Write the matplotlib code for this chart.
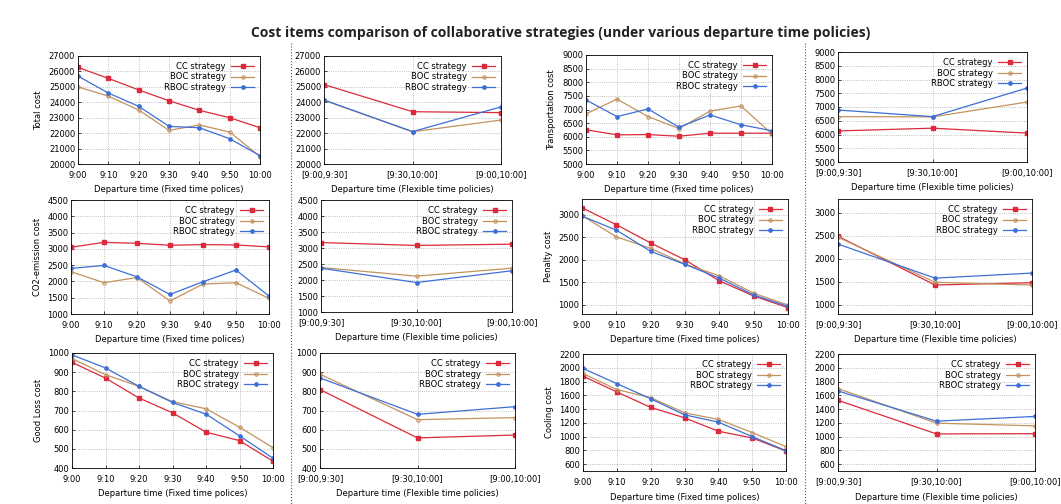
import matplotlib
matplotlib.use('Agg')
import matplotlib.pyplot as plt
from matplotlib.lines import Line2D

# departure times
fixed_ticks = ['9:00', '9:10', '9:20', '9:30', '9:40', '9:50', '10:00']
flex_ticks = ['[9:00,9:30]', '[9:30,10:00]', '[9:00,10:00]']

# total cost
total_fix_cc = [26260, 25550, 24800, 24100, 23480, 23000, 22350]
total_fix_boc = [25000, 24400, 23500, 22180, 22530, 22070, 20480]
total_fix_rboc = [25700, 24600, 23740, 22440, 22350, 21640, 20540]
total_flex_cc = [25150, 23390, 23330]
total_flex_boc = [24130, 22090, 22850]
total_flex_rboc = [24150, 22100, 23700]

# transportation cost
trans_fix_cc = [6256, 6070, 6080, 6020, 6130, 6130, 6130]
trans_fix_boc = [6840, 7380, 6740, 6300, 6940, 7130, 6100]
trans_fix_rboc = [7350, 6740, 7020, 6350, 6800, 6440, 6220]
trans_flex_cc = [6130, 6230, 6050]
trans_flex_boc = [6650, 6640, 7180]
trans_flex_rboc = [6890, 6650, 7690]

# CO2-emission cost
co2_fix_cc = [3050, 3200, 3170, 3110, 3130, 3120, 3060]
co2_fix_boc = [2300, 1960, 2120, 1400, 1920, 1960, 1480]
co2_fix_rboc = [2400, 2490, 2140, 1600, 1990, 2350, 1550]
co2_flex_cc = [3170, 3080, 3120]
co2_flex_boc = [2390, 2120, 2370]
co2_flex_rboc = [2370, 1920, 2290]

# penalty cost
pen_fix_cc = [3156, 2780, 2375, 2000, 1535, 1200, 940]
pen_fix_boc = [2985, 2510, 2256, 1907, 1647, 1260, 1000]
pen_fix_rboc = [2970, 2660, 2190, 1900, 1595, 1220, 970]
pen_flex_cc = [2490, 1430, 1480]
pen_flex_boc = [2470, 1490, 1430]
pen_flex_rboc = [2320, 1580, 1690]

# good loss cost
loss_fix_cc = [951, 869, 765, 688, 587, 543, 435]
loss_fix_boc = [971, 887, 826, 746, 709, 613, 506]
loss_fix_rboc = [990, 922, 826, 742, 681, 568, 451]
loss_flex_cc = [809, 557, 572]
loss_flex_boc = [889, 652, 663]
loss_flex_rboc = [870, 680, 720]

# cooling cost
cool_fix_cc = [1878, 1649, 1424, 1273, 1078, 980, 790]
cool_fix_boc = [1917, 1683, 1566, 1346, 1249, 1059, 854]
cool_fix_rboc = [1990, 1770, 1550, 1317, 1210, 1000, 795]
cool_flex_cc = [1527, 1039, 1042]
cool_flex_boc = [1698, 1195, 1156]
cool_flex_rboc = [1663, 1224, 1293]

W, H = 1061, 504
fig = plt.figure(figsize=(W / 100, H / 100), dpi=100)
fig.patch.set_facecolor('white')
plt.rcParams['font.family'] = ['DejaVu Sans']

RED = '#dc2a3c'
TAN = '#c2935e'
BLUE = '#3d6fd6'
FS = 6.0


def box(x0, x1, y0, y1):
    # pixel box -> figure fraction
    return [x0 / W, 1 - y1 / H, (x1 - x0) / W, (y1 - y0) / H]


def panel(rect, cc, boc, rboc, ticks, ylim, yticks, xlabel, ylabel=None):
    ax = fig.add_axes(rect)
    x = list(range(len(ticks)))
    ax.plot(x, cc, color=RED, lw=0.9, marker='s', ms=2.6, label='CC strategy')
    ax.plot(x, boc, color=TAN, lw=0.9, marker='o', ms=2.4, mfc='none',
            mew=0.8, label='BOC strategy')
    ax.plot(x, rboc, color=BLUE, lw=0.9, marker='o', ms=2.4,
            label='RBOC strategy')
    ax.set_xlim(0, len(ticks) - 1)
    ax.set_ylim(*ylim)
    ax.set_xticks(x)
    ax.set_xticklabels(ticks)
    ax.set_yticks(yticks)
    ax.tick_params(labelsize=FS, length=2, width=0.5, direction='in', pad=2)
    ax.tick_params(axis='x', pad=5)
    ax.grid(True, color='#aaaaaa', ls=':', lw=0.6)
    for s in ax.spines.values():
        s.set_linewidth(0.6)
    ax.set_xlabel(xlabel, fontsize=FS, labelpad=4)
    if ylabel:
        ax.set_ylabel(ylabel, fontsize=FS, labelpad=4)
    ax.legend(loc='upper right', frameon=False, fontsize=FS, markerfirst=False,
              handlelength=2.8, handletextpad=0.6, labelspacing=0.2,
              borderaxespad=0.3)
    return ax


fix_lab = 'Departure time (Fixed time polices)'
flex_lab = 'Departure time (Flexible time policies)'

# row 1
panel(box(78, 260, 56, 164), total_fix_cc, total_fix_boc, total_fix_rboc,
      fixed_ticks, (20000, 27000), range(20000, 27001, 1000), fix_lab, 'Total cost')
panel(box(324, 501, 56, 164), total_flex_cc, total_flex_boc, total_flex_rboc,
      flex_ticks, (20000, 27000), range(20000, 27001, 1000), flex_lab)
panel(box(586, 772, 55, 164), trans_fix_cc, trans_fix_boc, trans_fix_rboc,
      fixed_ticks, (5000, 9000), range(5000, 9001, 500), fix_lab, 'Transportation cost')
panel(box(838, 1027, 52, 162), trans_flex_cc, trans_flex_boc, trans_flex_rboc,
      flex_ticks, (5000, 9000), range(5000, 9001, 500), flex_lab)

# row 2
panel(box(71, 269, 200, 314), co2_fix_cc, co2_fix_boc, co2_fix_rboc,
      fixed_ticks, (1000, 4500), range(1000, 4501, 500), fix_lab, 'CO2-emission cost')
panel(box(321, 512, 200, 312), co2_flex_cc, co2_flex_boc, co2_flex_rboc,
      flex_ticks, (1000, 4500), range(1000, 4501, 500), flex_lab)
panel(box(582, 788, 199, 314), pen_fix_cc, pen_fix_boc, pen_fix_rboc,
      fixed_ticks, (800, 3350), range(1000, 3001, 500), fix_lab, 'Penalty cost')
panel(box(838, 1032, 199, 314), pen_flex_cc, pen_flex_boc, pen_flex_rboc,
      flex_ticks, (800, 3300), range(1000, 3001, 500), flex_lab)

# row 3
panel(box(72, 273, 353, 468), loss_fix_cc, loss_fix_boc, loss_fix_rboc,
      fixed_ticks, (400, 1000), range(400, 1001, 100), fix_lab, 'Good Loss cost')
panel(box(320, 515, 353, 468), loss_flex_cc, loss_flex_boc, loss_flex_rboc,
      flex_ticks, (400, 1000), range(400, 1001, 100), flex_lab)
panel(box(583, 786, 354, 471), cool_fix_cc, cool_fix_boc, cool_fix_rboc,
      fixed_ticks, (500, 2200), range(600, 2201, 200), fix_lab, 'Cooling cost')
panel(box(838, 1035, 354, 471), cool_flex_cc, cool_flex_boc, cool_flex_rboc,
      flex_ticks, (500, 2200), range(600, 2201, 200), flex_lab)

# dotted separators between fixed / flexible columns
for xs in (291, 805):
    fig.add_artist(Line2D([xs / W, xs / W], [1 - 43 / H, 0.0], color='#555555',
                          ls=':', lw=0.8, transform=fig.transFigure))

fig.text(0.528, 1 - 33 / H,
         'Cost items comparison of collaborative strategies (under various departure time policies)',
         ha='center', va='center', fontsize=10, fontweight='bold',
         family=['Open Sans', 'DejaVu Sans'], color='#222222')

fig.savefig('out.png', dpi=100)
